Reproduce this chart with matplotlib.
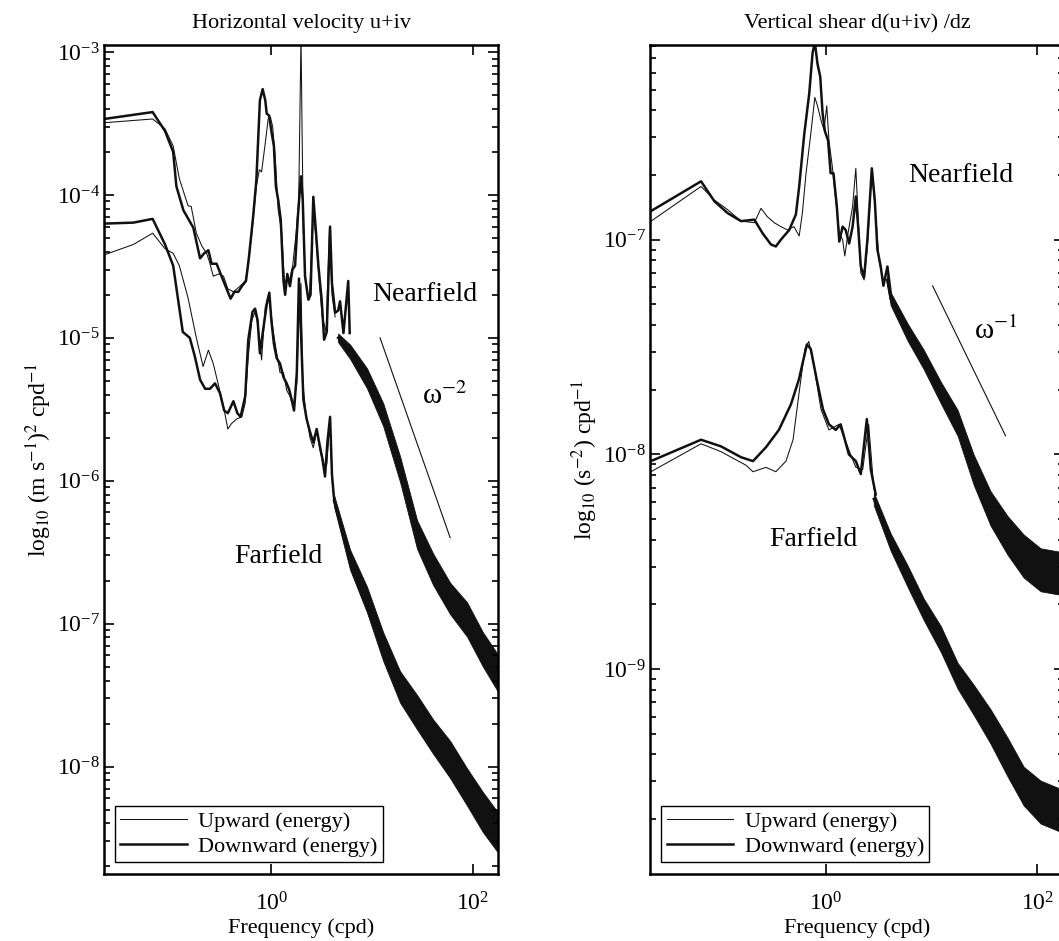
import numpy as np
import matplotlib
matplotlib.use("Agg")
import matplotlib.pyplot as plt
from matplotlib.ticker import LogLocator, FixedLocator, NullLocator, NullFormatter, LogFormatterSciNotation

plt.rcParams['font.family'] = ['Liberation Serif', 'DejaVu Serif']
plt.rcParams['mathtext.fontset'] = 'stix'

########################################################################################################################
# Data (frequency in cpd, spectral level)
########################################################################################################################

# --- left panel: horizontal velocity, nearfield
hv_near_down_f = [.0218, .0663, .088, .106, .114, .134, .168, .196, .215, .237, .255, .286, .32, .36, .394, .43, .47,
                  .51, .56, .60, .66, .71, .77, .82, .87, .90, .95, 1.0, 1.06, 1.11, 1.17, 1.24, 1.32, 1.37, 1.44,
                  1.53, 1.62, 1.72, 1.83, 1.93, 1.97, 2.05, 2.16, 2.33, 2.45, 2.61, 2.78, 2.93, 3.16, 3.34, 3.55,
                  3.83, 4.0, 4.3, 4.6, 4.81, 5.2, 5.8, 6.0]
hv_near_down = [3.4e-4, 3.8e-4, 2.8e-4, 2.0e-4, 1.15e-4, 7.8e-5, 5.9e-5, 3.6e-5, 3.9e-5, 4.1e-5, 3.3e-5, 3.3e-5,
                2.7e-5, 2.2e-5, 1.88e-5, 2.1e-5, 2.1e-5, 2.3e-5, 2.5e-5, 3.7e-5, 7.1e-5, 1.27e-4, 4.6e-4, 5.5e-4,
                4.6e-4, 3.7e-4, 3.6e-4, 2.8e-4, 2.2e-4, 1.14e-4, 9.2e-5, 6.7e-5, 2.5e-5, 2.0e-5, 2.8e-5, 2.3e-5,
                3.0e-5, 3.2e-5, 6.9e-5, 1.15e-4, 1.35e-4, 9.2e-5, 2.7e-5, 1.85e-5, 2.0e-5, 9.7e-5, 5.4e-5, 3.2e-5,
                1.85e-5, 9.7e-6, 1.1e-5, 6.0e-5, 2.4e-5, 1.5e-5, 1.55e-5, 1.8e-5, 1.08e-5, 2.5e-5, 1.08e-5]
hv_near_up_f = [.0218, .0663, .088, .106, .122, .149, .16, .18, .204, .228, .246, .265, .30, .335, .37, .419, .49,
                .55, .59, .64, .71, .76, .80, .87, .93, .98, 1.03, 1.09, 1.17, 1.27, 1.35, 1.42, 1.51, 1.63, 1.76,
                1.87, 1.93, 1.97, 2.02, 2.08, 2.2, 2.38, 2.61, 2.78, 3.0, 3.2, 3.5, 3.78, 4.0, 4.3]
hv_near_up = [3.2e-4, 3.4e-4, 2.9e-4, 2.2e-4, 1.3e-4, 8.4e-5, 8.3e-5, 5.4e-5, 4.4e-5, 3.9e-5, 3.3e-5, 2.7e-5,
              2.8e-5, 2.7e-5, 2.2e-5, 2.1e-5, 2.3e-5, 2.5e-5, 3.2e-5, 5.4e-5, 1.15e-4, 1.5e-4, 1.45e-4, 2.3e-4,
              3.4e-4, 3.5e-4, 3.0e-4, 1.9e-4, 7.8e-5, 5.4e-5, 2.4e-5, 2.6e-5, 2.5e-5, 3.2e-5, 5.4e-5, 9.2e-5,
              4.6e-4, 1.3e-3, 2.7e-4, 5.4e-5, 2.4e-5, 1.85e-5, 7.8e-5, 4.9e-5, 2.4e-5, 1.4e-5, 1.1e-5, 6.0e-5,
              2.0e-5, 1.4e-5]
hv_near_band_f = [4.6, 6.05, 8.92, 12.9, 19.0, 28.0, 40.4, 59.6, 87.7, 126, 178]
hv_near_band = [1.0e-5, 8.0e-6, 5.2e-6, 2.9e-6, 1.2e-6, 4.2e-7, 2.4e-7, 1.5e-7, 1.07e-7, 6.6e-8, 4.5e-8]
hv_near_spread = [0.03, 0.05, 0.07, 0.08, 0.09, 0.10, 0.11, 0.11, 0.12, 0.12, 0.13]   # half width, decades

# --- left panel: horizontal velocity, farfield
hv_far_down_f = [.0218, .0426, .0663, .088, .106, .132, .155, .174, .196, .22, .246, .276, .309, .34, .37, .42, .46,
                 .495, .55, .59, .65, .69, .73, .77, .865, .91, .955, 1.0, 1.06, 1.13, 1.22, 1.32, 1.42, 1.51, 1.59,
                 1.68, 1.79, 1.88, 1.97, 2.08, 2.24, 2.42, 2.61, 2.82, 3.04, 3.23, 3.41, 3.6, 3.83, 4.0, 4.2]
hv_far_down = [6.3e-5, 6.4e-5, 6.8e-5, 4.5e-5, 3.2e-5, 1.1e-5, 1.0e-5, 7.4e-6, 5.1e-6, 4.4e-6, 4.4e-6, 4.8e-6,
               4.1e-6, 3.1e-6, 2.97e-6, 3.6e-6, 2.97e-6, 2.8e-6, 3.9e-6, 9.7e-6, 1.52e-5, 1.6e-5, 1.33e-5, 7.8e-6,
               1.41e-5, 1.8e-5, 2.07e-5, 1.33e-5, 9.1e-6, 7.2e-6, 6.6e-6, 5.3e-6, 4.8e-6, 4.3e-6, 3.7e-6, 3.1e-6,
               5.7e-6, 2.6e-5, 1.08e-5, 3.7e-6, 2.7e-6, 2.2e-6, 1.85e-6, 2.3e-6, 1.73e-6, 1.4e-6, 1.07e-6, 1.85e-6,
               2.8e-6, 1.1e-6, 7.4e-7]
hv_far_up_f = [.0218, .0426, .0663, .088, .106, .122, .149, .18, .21, .237, .265, .30, .335, .37, .40, .45, .51, .55,
               .59, .64, .69, .74, .80, .87, .93, .98, 1.05, 1.13, 1.22, 1.32, 1.42, 1.53, 1.65, 1.79, 1.9, 1.97,
               2.05, 2.2, 2.42, 2.61, 2.82, 3.04, 3.3, 3.55, 3.83, 4.0, 4.2]
hv_far_up = [3.8e-5, 4.5e-5, 5.4e-5, 4.2e-5, 3.9e-5, 3.2e-5, 1.9e-5, 1.0e-5, 6.3e-6, 8.2e-6, 6.6e-6, 4.6e-6, 3.3e-6,
             2.3e-6, 2.5e-6, 2.7e-6, 2.8e-6, 3.5e-6, 7.4e-6, 1.33e-5, 1.52e-5, 1.2e-5, 7.0e-6, 1.65e-5, 1.9e-5,
             1.6e-5, 1.08e-5, 7.8e-6, 5.7e-6, 5.7e-6, 4.3e-6, 3.9e-6, 3.3e-6, 4.8e-6, 1.85e-5, 2.4e-5, 4.8e-6,
             3.0e-6, 2.0e-6, 1.7e-6, 2.2e-6, 1.65e-6, 1.26e-6, 1.3e-6, 2.7e-6, 1.05e-6, 7.0e-7]
hv_far_band_f = [4.2, 6.05, 8.92, 12.9, 19.0, 28.0, 40.4, 59.6, 87.7, 126, 178]
hv_far_band = [7.2e-7, 2.8e-7, 1.47e-7, 6.9e-8, 3.6e-8, 2.4e-8, 1.62e-8, 1.12e-8, 7.2e-9, 4.8e-9, 3.45e-9]
hv_far_spread = [0.04, 0.07, 0.09, 0.10, 0.11, 0.12, 0.12, 0.13, 0.13, 0.14, 0.14]

# --- right panel: vertical shear, nearfield
sh_near_down_f = [.0223, .0662, .0885, .118, .158, .211, .253, .303, .337, .376, .451, .521, .56, .625, .697, .749,
                  .787, .834, .885, .931, .98, 1.05, 1.11, 1.18, 1.27, 1.34, 1.44, 1.54, 1.66, 1.79, 1.92, 2.02,
                  2.14, 2.3, 2.47, 2.72, 2.9, 3.07, 3.3, 3.5, 3.82, 4.1]
sh_near_down = [1.36e-7, 1.87e-7, 1.51e-7, 1.33e-7, 1.22e-7, 1.24e-7, 1.07e-7, 9.5e-8, 9.3e-8, 1.0e-7, 1.11e-7,
                1.31e-7, 1.77e-7, 3.1e-7, 4.8e-7, 7.4e-7, 8.3e-7, 6.6e-7, 5.75e-7, 3.9e-7, 3.2e-7, 2.9e-7, 2.04e-7,
                2.04e-7, 1.43e-7, 9.8e-8, 1.15e-7, 1.11e-7, 9.6e-8, 1.15e-7, 1.59e-7, 1.15e-7, 7.5e-8, 6.7e-8,
                1.0e-7, 2.15e-7, 1.53e-7, 9.0e-8, 7.5e-8, 6.1e-8, 7.5e-8, 5.65e-8]
sh_near_up_f = [.0223, .0662, .0885, .118, .158, .211, .244, .28, .325, .376, .435, .5, .56, .6, .65, .72, .787,
                .834, .9, .96, 1.02, 1.07, 1.15, 1.24, 1.34, 1.44, 1.51, 1.62, 1.79, 1.92, 2.02, 2.14, 2.3, 2.47,
                2.72, 2.95, 3.18, 3.5]
sh_near_up = [1.22e-7, 1.77e-7, 1.53e-7, 1.38e-7, 1.22e-7, 1.2e-7, 1.4e-7, 1.28e-7, 1.2e-7, 1.15e-7, 1.11e-7,
              1.15e-7, 1.04e-7, 1.33e-7, 2.04e-7, 3.1e-7, 4.6e-7, 4.2e-7, 3.6e-7, 3.25e-7, 4.2e-7, 2.9e-7, 2.2e-7,
              1.53e-7, 1.07e-7, 1.0e-7, 8.4e-8, 1.07e-7, 1.43e-7, 2.15e-7, 1.28e-7, 7.0e-8, 6.5e-8, 9.3e-8, 2.1e-7,
              1.33e-7, 8.0e-8, 6.3e-8]
sh_near_band_f = [3.8, 4.1, 5.94, 8.4, 12.2, 17.6, 24.9, 36, 52, 74, 107, 180]
sh_near_band = [6.5e-8, 5.3e-8, 3.7e-8, 2.77e-8, 1.94e-8, 1.4e-8, 8.5e-9, 5.6e-9, 4.2e-9, 3.36e-9, 2.9e-9, 2.77e-9]
sh_near_spread = [0.02, 0.03, 0.04, 0.045, 0.05, 0.06, 0.07, 0.08, 0.09, 0.10, 0.10, 0.10]

# --- right panel: vertical shear, farfield
sh_far_down_f = [.0222, .0662, .102, .158, .205, .272, .36, .468, .556, .662, .72, .82, .94, 1.07, 1.24, 1.38, 1.65,
                 1.92, 2.14, 2.44, 2.66, 2.96]
sh_far_down = [9.3e-9, 1.17e-8, 1.09e-8, 9.7e-9, 9.3e-9, 1.08e-8, 1.3e-8, 1.71e-8, 2.23e-8, 3.25e-8, 3.1e-8, 2.23e-8,
               1.62e-8, 1.38e-8, 1.3e-8, 1.38e-8, 1.0e-8, 9.3e-9, 8.1e-9, 1.46e-8, 8.5e-9, 6.5e-9]
sh_far_up_f = [.0222, .0662, .102, .176, .205, .272, .337, .42, .49, .556, .635, .69, .77, .9, 1.07, 1.33, 1.65, 1.92,
               2.23, 2.54, 2.84]
sh_far_up = [8.3e-9, 1.12e-8, 1.03e-8, 8.9e-9, 8.3e-9, 8.7e-9, 8.3e-9, 9.3e-9, 1.17e-8, 1.9e-8, 3.1e-8, 3.36e-8,
             2.6e-8, 1.62e-8, 1.3e-8, 1.38e-8, 1.05e-8, 8.7e-9, 8.5e-9, 1.38e-8, 6.9e-9]
sh_far_band_f = [2.84, 4.1, 5.94, 8.4, 12.2, 17.6, 24.9, 36, 52, 74, 107, 180]
sh_far_band = [6.2e-9, 3.9e-9, 2.7e-9, 1.9e-9, 1.38e-9, 9.3e-10, 7.2e-10, 5.4e-10, 3.9e-10, 2.85e-10, 2.4e-10,
               2.16e-10]
sh_far_spread = [0.03, 0.04, 0.05, 0.05, 0.06, 0.06, 0.07, 0.08, 0.09, 0.09, 0.10, 0.10]

# reference slopes (end points)
hv_slope_f = [12.0, 59.6]
hv_slope = [1.0e-5, 4.0e-7]
sh_slope_f = [10.2, 49.9]
sh_slope = [6.1e-8, 1.22e-8]

# labelled ticks
x_ticks = [1, 100]
hv_yticks = [1e-8, 1e-7, 1e-6, 1e-5, 1e-4, 1e-3]
sh_yticks = [1e-9, 1e-8, 1e-7]

########################################################################################################################
# Figure
########################################################################################################################

fig = plt.figure(figsize=(10.59, 9.41), dpi=100)
ax1 = fig.add_axes([104 / 1059, 67 / 941, 394 / 1059, 829 / 941])
ax2 = fig.add_axes([650 / 1059, 67 / 941, 414 / 1059, 829 / 941])

INK = '#111111'
THIN = 0.75
THICK = 1.8


def draw_band(ax, f, level, spread):
    f = np.asarray(f)
    level = np.asarray(level)
    spread = np.asarray(spread)
    ax.fill_between(f, level * 10 ** spread, level / 10 ** spread, color=INK, lw=0.6, edgecolor=INK)
    ax.plot(f, level, color=INK, lw=THICK)


def style_axes(ax, ylim, yticks):
    ax.set_xscale('log')
    ax.set_yscale('log')
    ax.set_xlim(0.0218, 178)
    ax.set_ylim(*ylim)
    ax.xaxis.set_major_locator(FixedLocator(x_ticks))
    ax.xaxis.set_minor_locator(NullLocator())
    ax.xaxis.set_major_formatter(LogFormatterSciNotation())
    ax.yaxis.set_major_locator(FixedLocator(yticks))
    ax.yaxis.set_major_formatter(LogFormatterSciNotation())
    ax.yaxis.set_minor_locator(LogLocator(base=10, subs=np.arange(2, 10), numticks=20))
    ax.yaxis.set_minor_formatter(NullFormatter())
    ax.tick_params(which='both', direction='in', top=True, right=True, width=1.2, labelsize=17)
    ax.tick_params(axis='y', pad=3)
    ax.tick_params(axis='x', pad=13)
    ax.tick_params(which='major', length=7)
    ax.tick_params(which='minor', length=4)
    for s in ax.spines.values():
        s.set_linewidth(1.8)
    ax.set_xlabel('Frequency (cpd)', fontsize=16, labelpad=2)


# ---------------------------------------------------------------- left panel
draw_band(ax1, hv_near_band_f, hv_near_band, hv_near_spread)
draw_band(ax1, hv_far_band_f, hv_far_band, hv_far_spread)
ax1.plot(hv_near_up_f, hv_near_up, color=INK, lw=THIN)
ax1.plot(hv_near_down_f, hv_near_down, color=INK, lw=THICK)
ax1.plot(hv_far_up_f, hv_far_up, color=INK, lw=THIN, label='Upward (energy)')
ax1.plot(hv_far_down_f, hv_far_down, color=INK, lw=THICK, label='Downward (energy)')
ax1.plot(hv_slope_f, hv_slope, color=INK, lw=0.8)
style_axes(ax1, (1.77e-9, 1.12e-3), hv_yticks)
ax1.set_title('Horizontal velocity u+iv', fontsize=16, pad=12)
ax1.set_ylabel(r'log$_{10}$ (m s$^{-1}$)$^2$ cpd$^{-1}$', fontsize=17, labelpad=2)
ax1.text(10.0, 2.0e-5, 'Nearfield', fontsize=20, va='center', ha='left')
ax1.text(0.43, 2.95e-7, 'Farfield', fontsize=20, va='center', ha='left')
ax1.text(31, 3.9e-6, r'ω$^{-2}$', fontsize=21, va='center', ha='left')

# ---------------------------------------------------------------- right panel
draw_band(ax2, sh_near_band_f, sh_near_band, sh_near_spread)
draw_band(ax2, sh_far_band_f, sh_far_band, sh_far_spread)
ax2.plot(sh_near_up_f, sh_near_up, color=INK, lw=THIN)
ax2.plot(sh_near_down_f, sh_near_down, color=INK, lw=THICK)
ax2.plot(sh_far_up_f, sh_far_up, color=INK, lw=THIN, label='Upward (energy)')
ax2.plot(sh_far_down_f, sh_far_down, color=INK, lw=THICK, label='Downward (energy)')
ax2.plot(sh_slope_f, sh_slope, color=INK, lw=0.8)
style_axes(ax2, (1.11e-10, 8.07e-7), sh_yticks)
ax2.set_title('Vertical shear d(u+iv) /dz', fontsize=16, pad=12)
ax2.set_ylabel(r'log$_{10}$ (s$^{-2}$) cpd$^{-1}$', fontsize=17, labelpad=2)
ax2.text(5.94, 2.0e-7, 'Nearfield', fontsize=20, va='center', ha='left')
ax2.text(0.29, 4.0e-9, 'Farfield', fontsize=20, va='center', ha='left')
ax2.text(24.9, 3.75e-8, r'ω$^{-1}$', fontsize=21, va='center', ha='left')

for ax in (ax1, ax2):
    leg = ax.legend(loc='lower left', bbox_to_anchor=(0.027, 0.014), fontsize=16, fancybox=False,
                    edgecolor='black', framealpha=1, handlelength=3.0, borderpad=0.25, labelspacing=0.2,
                    handletextpad=0.5, borderaxespad=0)
    leg.get_frame().set_linewidth(1.0)

fig.savefig('out.png', dpi=100)
